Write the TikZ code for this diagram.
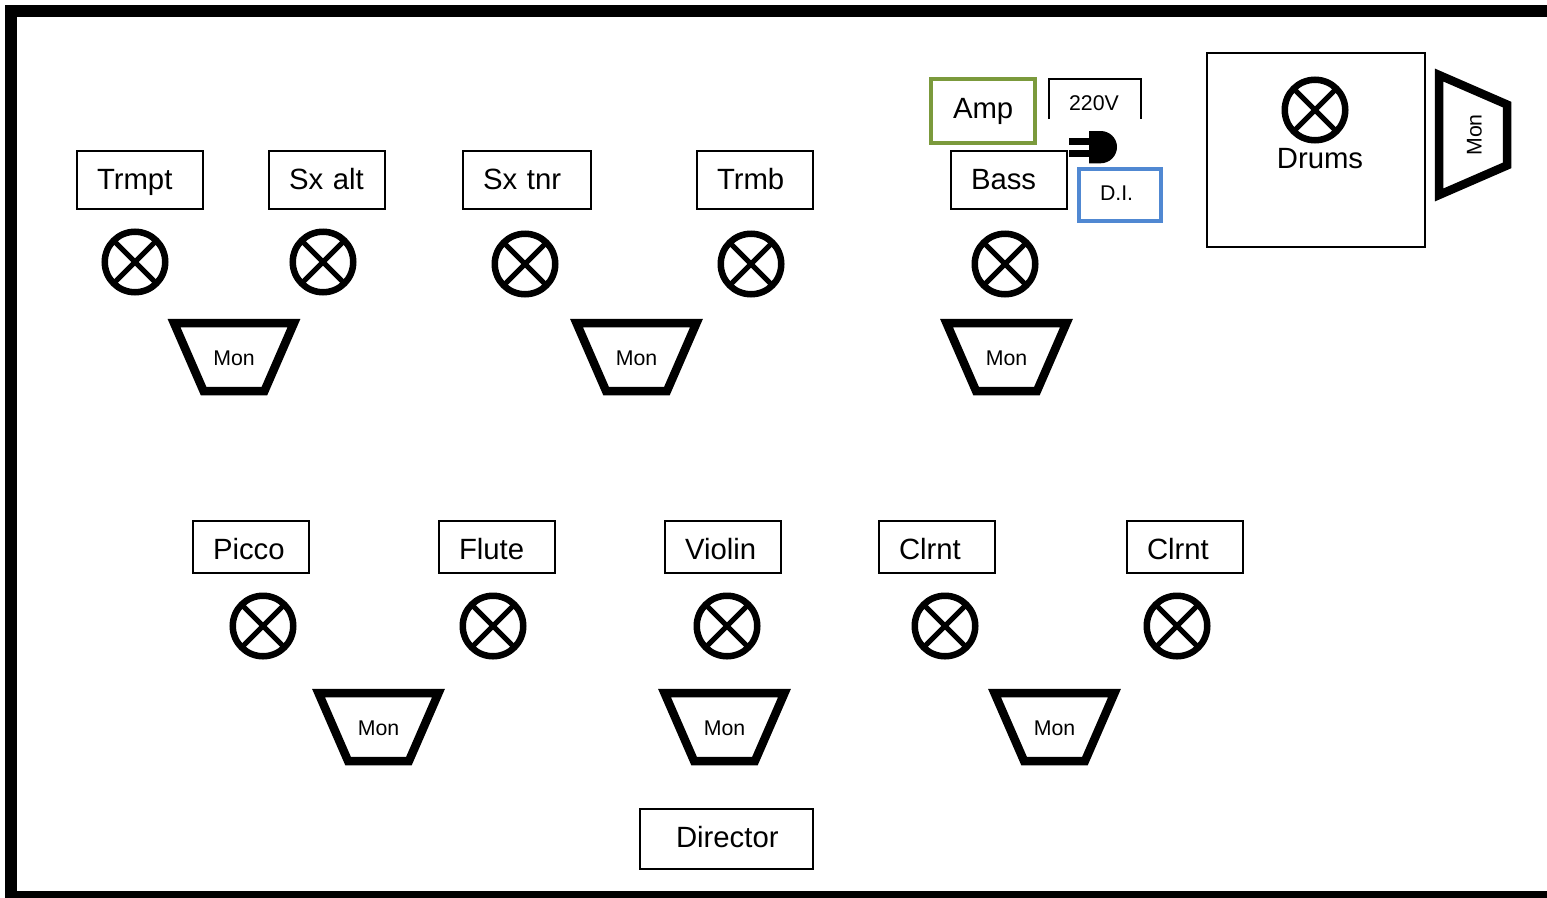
\documentclass[tikz,border=0pt]{standalone}
\usepackage{fontspec}
\setmainfont{Liberation Sans}
\usetikzlibrary{shapes.geometric}
\definecolor{ampgreen}{HTML}{7B9A3C}
\definecolor{diblue}{HTML}{5088D2}
\newcommand{\bigf}{\fontsize{29.3}{32}\selectfont}
\newcommand{\smallf}{\fontsize{21.3}{24}\selectfont}
\tikzset{
  instbox/.style={draw,line width=2pt,outer sep=0pt,inner xsep=20pt,inner ysep=0pt,align=left,
    text height=21pt,text depth=3pt,font=\bigf},
  backbox/.style={instbox,text width=76pt,minimum height=52pt,text height=24pt,text depth=0pt},
  mic/.style={circle,draw,line width=6.5pt,outer sep=0pt,inner sep=0pt,minimum size=60.5pt,
    path picture={
      \draw[line width=5pt] (path picture bounding box.north west) -- (path picture bounding box.south east);
      \draw[line width=5pt] (path picture bounding box.north east) -- (path picture bounding box.south west);
    }},
  mon/.style={trapezium,shape border rotate=180,trapezium angle=66.5,trapezium stretches body=true,draw,
    line width=8.5pt,outer sep=0pt,inner xsep=0pt,inner ysep=25.5pt,minimum width=120pt,
    text height=17pt,text depth=0pt,font=\smallf},
  plainlbl/.style={inner sep=0pt,outer sep=0pt}
}
\begin{document}
\begin{tikzpicture}[x=1pt,y=-1pt]
   \useasboundingbox (0,0) rectangle (1547,897);
   \clip (0,0) rectangle (1547,897);
   % room
   \draw[line width=12pt,miter limit=10] (1560,11) -- (11,11) -- (11,897) -- (1560,897);
   % front row
   \node[instbox,text width=86pt,minimum height=58pt] (trmpt) at (140,180) {Trmpt};
   \node[instbox,text width=76pt,minimum height=58pt] (sxalt) at (327,180) {Sx alt};
   \node[instbox,text width=88pt,minimum height=58pt] (sxtnr) at (527,180) {Sx tnr};
   \node[instbox,text width=76pt,minimum height=58pt] (trmb) at (755,180) {Trmb};
   \node[instbox,text width=76pt,minimum height=58pt] (bass) at (1009,180) {Bass};
   \node[mic] (mictrmpt) at (135,262) {};
   \node[mic] (micsxalt) at (323,262) {};
   \node[mic] (micsxtnr) at (525,264) {};
   \node[mic] (mictrmb) at (751,264) {};
   \node[mic] (micbass) at (1005,264) {};
   \node[mon] (mona) at (234,357) {Mon};
   \node[mon] (monb) at (636.5,357) {Mon};
   \node[mon] (monc) at (1006.5,357) {Mon};
   % back row
   \node[backbox] (picco) at (251,547) {Picco};
   \node[backbox] (flute) at (497,547) {Flute};
   \node[backbox] (violin) at (723,547) {Violin};
   \node[backbox] (clrnta) at (937,547) {Clrnt};
   \node[backbox] (clrntb) at (1185,547) {Clrnt};
   \node[mic] (micpicco) at (263,626) {};
   \node[mic] (micflute) at (493,626) {};
   \node[mic] (micviolin) at (727,626) {};
   \node[mic] (micclrnta) at (945,626) {};
   \node[mic] (micclrntb) at (1177,626) {};
   \node[mon] (mond) at (378.5,727) {Mon};
   \node[mon] (mone) at (724.5,727) {Mon};
   \node[mon] (monf) at (1054.5,727) {Mon};
   % director
   \node[instbox,inner xsep=36pt,text width=101pt,minimum height=60pt,text depth=5pt] (director) at (726.5,839) {Director};
   % amp, power and DI
   \node[instbox,draw=ampgreen,line width=3.5pt,inner xsep=22pt,text width=60pt,minimum height=64pt,text depth=7pt] (amp) at (983,111) {Amp};
   \draw[line width=2pt] (1049,119) -- (1049,79) -- (1141,79) -- (1141,119);
   \node[plainlbl,font=\smallf] (volt) at (1094,103) {220V};
   \fill (1089,131) -- (1100.7,131) .. controls (1109.5,131) and (1117,138) .. (1117,147)
      .. controls (1117,156) and (1109.5,163.3) .. (1100.7,163.3) -- (1089,163.3) -- cycle;
   \fill (1069,137.7) rectangle (1090,145);
   \fill (1069,150) rectangle (1090,157.3);
   \node[instbox,draw=diblue,line width=3.5pt,inner xsep=21pt,text width=40pt,minimum height=52pt,font=\smallf,text height=15pt,text depth=5pt] (di) at (1120,195) {D.I.};
   % drums
   \node[draw,line width=2pt,outer sep=0pt,minimum width=218pt,minimum height=194pt] (drums) at (1316,150) {};
   \node[mic] (micdrums) at (1315,110) {};
   \node[plainlbl,font=\bigf] (drumslbl) at (1320,159) {Drums};
   \node[mon,rotate=90] (mong) at (1473,135) {Mon};
\end{tikzpicture}
\end{document}
